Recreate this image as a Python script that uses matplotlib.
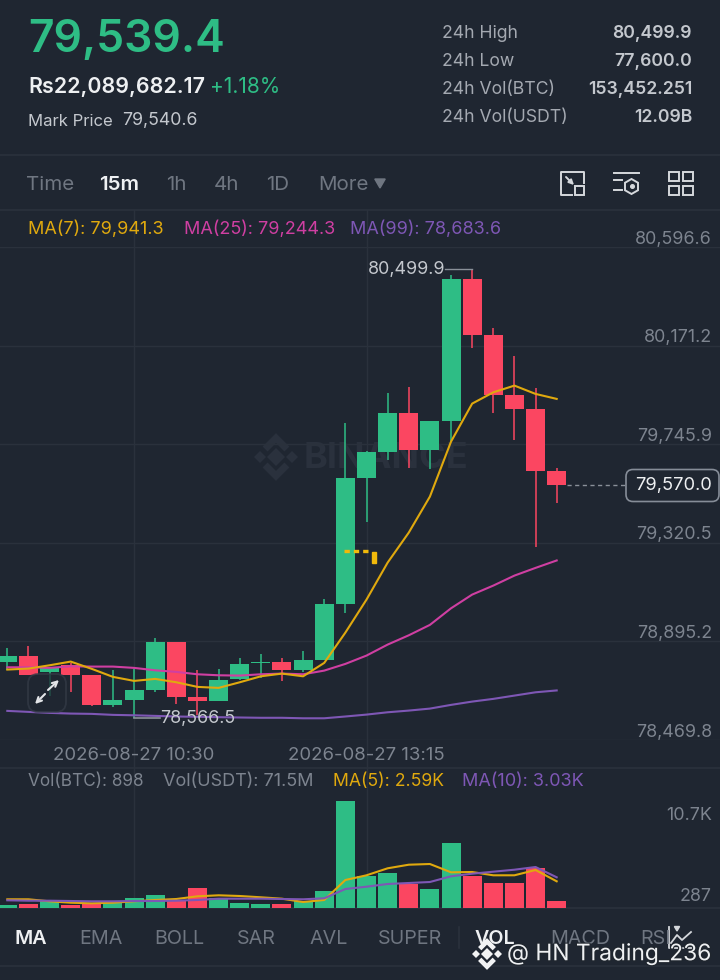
import matplotlib
matplotlib.use("Agg")
import matplotlib.pyplot as plt
import matplotlib.patheffects as pe
from matplotlib.patches import FancyBboxPatch, Rectangle, RegularPolygon

plt.rcParams['font.family'] = ['Inter', 'DejaVu Sans']

# candles
opens = [78806.8, 78830.9, 78763.6, 78792.1, 78749.0, 78621.3, 78642.8, 78687.3, 78891.3, 78657.1,
         78638.5, 78733.4, 78800.7, 78805.0, 78772.3, 78813.7, 79057.0, 79600.5, 79713.9, 79879.2,
         79722.6, 79846.4, 80460.2, 80217.4, 79956.8, 79899.4, 79632.0]
closes = [78830.9, 78749.0, 78780.9, 78752.0, 78621.3, 78641.1, 78684.3, 78891.3, 78657.1, 78638.5,
          78730.4, 78798.1, 78806.8, 78770.5, 78813.7, 79058.3, 79600.5, 79712.7, 79879.2, 79722.6,
          79846.4, 80460.2, 80217.4, 79956.8, 79899.4, 79632.0, 79570.0]
highs = [78868.5, 78877.1, 78780.9, 78803.8, 78749.0, 78773.6, 78777.9, 78908.6, 78891.3, 78773.6,
         78776.6, 78822.3, 78841.3, 78822.3, 78852.5, 79078.5, 79837.7, 79715.2, 79967.2, 79993.0,
         79847.7, 80476.2, 80499.9, 80247.6, 80128.1, 79988.7, 79643.6]
lows = [78770.5, 78749.0, 78658.4, 78677.4, 78615.3, 78610.9, 78566.5, 78678.7, 78626.9, 78579.4,
        78638.5, 78730.4, 78737.8, 78723.1, 78761.9, 78813.7, 79018.2, 79410.7, 79676.4, 79641.9,
        79639.3, 79758.4, 80161.3, 79880.9, 79765.7, 79302.8, 79492.7]

ma7 = [78773.6, 78777.9, 78792.1, 78808.1, 78776.6, 78742.1, 78724.8, 78733.4, 78718.8, 78698.9,
       78694.6, 78718.8, 78744.6, 78756.3, 78744.6, 78802.5, 78933.2, 79075.5, 79235.1, 79364.5,
       79519.8, 79757.1, 79921.0, 79969.7, 79998.7, 79962.8, 79941.3]
ma25 = [78783.5, 78783.5, 78780.9, 78787.8, 78786.5, 78786.5, 78780.9, 78770.5, 78763.6, 78753.3,
        78749.0, 78747.7, 78753.3, 78756.3, 78753.3, 78769.2, 78798.1, 78834.0, 78881.4, 78921.5,
        78966.4, 79038.0, 79097.1, 79135.9, 79179.0, 79212.3, 79244.3]
ma99 = [78595.4, 78591.1, 78586.8, 78583.8, 78582.5, 78578.2, 78576.4, 78573.8, 78571.2, 78569.9,
        78568.2, 78566.9, 78565.6, 78565.6, 78563.5, 78563.5, 78571.2, 78579.4, 78589.4, 78596.7,
        78605.3, 78621.3, 78635.5, 78647.2, 78661.4, 78675.6, 78683.6]

# volume
vol = [360, 412, 797, 360, 540, 797, 1183, 1569, 836, 2469, 1260, 617, 489, 412, 836, 2122, 13734,
       4051, 4437, 3061, 2379, 8256, 4012, 3112, 3189, 5118, 898]
vol_ma5 = [1055, 1055, 797, 617, 540, 617, 797, 965, 1093, 1440, 1569, 1479, 1312, 1132, 707, 965,
           3537, 4141, 5041, 5504, 5594, 4527, 4565, 4141, 4141, 4823, 3369]
vol_ma10 = [926, 874, 874, 836, 797, 797, 836, 836, 874, 965, 1132, 1132, 1132, 1093, 1055, 1183,
            2379, 2675, 3022, 3151, 3279, 4012, 4347, 4604, 4861, 5208, 3884]

price_ticks = [80596.6, 80171.2, 79745.9, 79320.5, 78895.2, 78469.8]
price_labels = ["80,596.6", "80,171.2", "79,745.9", "79,320.5", "78,895.2", "78,469.8"]
date_idx = [6, 17]
date_labels = ["2026-08-27 10:30", "2026-08-27 13:15"]
vol_ticks = [10700, 287]
vol_labels = ["10.7K", "287"]
stat_names = ["24h High", "24h Low", "24h Vol(BTC)", "24h Vol(USDT)"]
stat_values = ["80,499.9", "77,600.0", "153,452.251", "12.09B"]
tab_names = ["Time", "15m", "1h", "4h", "1D", "More"]
indicator_names = ["MA", "EMA", "BOLL", "SAR", "AVL", "SUPER", "VOL", "MACD", "RSI"]
last_price = 79570.0
high_price = 80499.9
low_price = 78566.5

BG = "#1f2631"
GRID = "#2a313c"
GREEN = "#2ebd85"
RED = "#fb4661"
GOLD = "#e0a90e"
PINK = "#cf3fa2"
PURPLE = "#7e57b5"
MUTED = "#7d848f"
SOFT = "#c4c8ce"
WHITE = "#eef0f2"

W, H = 720, 980
fig = plt.figure(figsize=(W / 100, H / 100), dpi=100, facecolor=BG)


def px_axes(x0, y0, x1, y1, z):
    # axes given in picture pixels, y going down
    a = fig.add_axes([x0 / W, 1 - y1 / H, (x1 - x0) / W, (y1 - y0) / H], zorder=z)
    a.patch.set_alpha(0)
    a.axis("off")
    return a


STEP = 21.13
X0 = 7.3
back = px_axes(0, 0, W, H, 0)
back.set_xlim(0, W)
back.set_ylim(H, 0)
over = px_axes(0, 0, W, H, 5)
over.set_xlim(0, W)
over.set_ylim(H, 0)

# price panel, ylim matches the gridlines
ax = px_axes(0, 247, W, 740, 2)
ax.set_xlim(-X0 / STEP, (W - X0) / STEP)
ax.set_ylim(price_ticks[-1], price_ticks[0])
xs = list(range(len(opens)))

# volume panel
vax = px_axes(0, 793, W, 907.5, 2)
vax.set_xlim(-X0 / STEP, (W - X0) / STEP)
vax.set_ylim(0, 114.5 * 128.6)


def logo(a, cx, cy, r, color, z=1):
    a.plot([cx], [cy], marker="D", ms=r * 0.42, color=color, mew=0, zorder=z)
    a.plot([cx - r * 0.78, cx + r * 0.78], [cy, cy], ls="", marker="D", ms=r * 0.3, color=color, mew=0, zorder=z)
    lw = r * 0.24
    a.plot([cx - r * 0.52, cx, cx + r * 0.52], [cy - r * 0.38, cy - r * 0.9, cy - r * 0.38], color=color, lw=lw,
           solid_joinstyle="miter", solid_capstyle="butt", zorder=z)
    a.plot([cx - r * 0.52, cx, cx + r * 0.52], [cy + r * 0.38, cy + r * 0.9, cy + r * 0.38], color=color, lw=lw,
           solid_joinstyle="miter", solid_capstyle="butt", zorder=z)


def arrow(a, start, end, color, style="-|>", scale=8, lw=1.5, z=4):
    a.annotate("", xy=end, xytext=start, zorder=z,
               arrowprops=dict(arrowstyle=style, color=color, lw=lw, mutation_scale=scale, shrinkA=0, shrinkB=0))


# dividers and gridlines
for y in [155, 210, 768, 907.5, 966]:
    back.plot([0, W], [y, y], color=GRID, lw=1.2, zorder=1)
for t in price_ticks:
    ax.axhline(t, color=GRID, lw=1.0, zorder=0)
for i in date_idx:
    px = X0 + STEP * i
    back.plot([px, px], [210, 907.5], color=GRID, lw=1.0, zorder=1)

# faint watermark behind the candles
logo(back, 276, 457, 21, "#2a313d", z=1)
back.text(304, 458, "BINANCE", color="#2a313d", fontsize=26, fontweight="bold", va="center", zorder=1)

# candles
for i in xs:
    c = GREEN if closes[i] >= opens[i] else RED
    ax.plot([i, i], [lows[i], highs[i]], color=c, lw=1.1, solid_capstyle="butt", zorder=2)
    ax.bar(i, abs(closes[i] - opens[i]), bottom=min(opens[i], closes[i]), width=0.9, color=c, zorder=3)

ax.plot(xs, ma99, color=PURPLE, lw=1.5, zorder=4)
ax.plot(xs, ma25, color=PINK, lw=1.5, zorder=4)
ax.plot(xs, ma7, color=GOLD, lw=1.5, zorder=5)

# volume
vcolors = [GREEN if closes[i] >= opens[i] else RED for i in xs]
vax.bar(xs, vol, width=0.9, color=vcolors, zorder=2)
vax.plot(xs, vol_ma5, color=GOLD, lw=1.5, zorder=3)
vax.plot(xs, vol_ma10, color=PURPLE, lw=1.5, zorder=4)

# price scale labels, sitting just above their gridline
for t, s in zip(price_ticks, price_labels):
    ax.annotate(s, (1, t), xycoords=("axes fraction", "data"), xytext=(-8, 8), textcoords="offset pixels",
                color=MUTED, fontsize=12.9, ha="right", va="center", annotation_clip=False)
for t, s in zip(vol_ticks, vol_labels):
    vax.annotate(s, (1, t), xycoords=("axes fraction", "data"), xytext=(-8, 9), textcoords="offset pixels",
                 color=MUTED, fontsize=12.9, ha="right", va="center", annotation_clip=False)
for i, s in zip(date_idx, date_labels):
    over.text(X0 + STEP * i, 755, s, color=MUTED, fontsize=13.4, ha="center", va="center")

# high / low tags
ax.plot([20.71, 22], [high_price, high_price], color="#8a9099", lw=1, zorder=2)
ax.annotate("80,499.9", (20.71, high_price), xytext=(0, 0), textcoords="offset pixels", color=SOFT, fontsize=12.9,
            ha="right", va="center", zorder=6)
ax.plot([6, 7.25], [low_price, low_price], color="#8a9099", lw=1.2, zorder=2)
ax.annotate("78,566.5", (7.25, low_price), xytext=(0, -1), textcoords="offset pixels", color=SOFT, fontsize=12.9,
            ha="left", va="center", zorder=6)

# last price tag
ax.plot([26.5, 29.3], [last_price, last_price], color="#8a9099", lw=1, ls=(0, (3, 2.5)), zorder=2)
over.add_patch(FancyBboxPatch((626, 469.5), 93, 32, boxstyle="round,pad=0,rounding_size=7", fc=BG, ec="#868d98", lw=1.2,
                              zorder=6, clip_on=False))
over.text(673.5, 485.5, "79,570.0", color=WHITE, fontsize=13.2, ha="center", va="center", zorder=7)

# the little position marker on the chart
over.plot([343.7, 367.5], [551, 551], color="#f0b90b", lw=2.4, ls=(0, (1.6, 1.2)), zorder=3)
over.add_patch(Rectangle((371.5, 551.5), 4.5, 11.5, color="#f0b90b", zorder=3))

# header
over.text(28, 40, "79,539.4", color=GREEN, fontsize=32, fontweight="semibold", va="center")
over.text(28, 87, "Rs22,089,682.17", color=WHITE, fontsize=15.4, fontweight="semibold", va="center")
over.text(210, 87, "+1.18%", color=GREEN, fontsize=15, va="center")
over.text(28, 121, "Mark Price", color=SOFT, fontsize=12, va="center")
over.text(122, 121, "79,540.6", color=SOFT, fontsize=12.8, va="center")
for i in range(4):
    y = 33 + 28 * i
    over.text(442, y, stat_names[i], color="#a4a9b1", fontsize=12.7, va="center")
    over.text(692, y, stat_values[i], color=SOFT, fontsize=12.7, fontweight="semibold", ha="right", va="center")

# interval tabs
tab_x = [26, 99, 166, 214, 266, 318]
for i, s in enumerate(tab_names):
    active = s == "15m"
    over.text(tab_x[i], 185, s, color=WHITE if active else "#6f7681", fontsize=14.8,
              fontweight="semibold" if active else "normal", va="center")
over.add_patch(RegularPolygon((380, 182), 3, radius=6, orientation=0, color="#6f7681"))

# toolbar icons
ICON = "#d5d8dc"
over.plot([572, 561, 561, 584, 584], [195, 195, 172, 172, 183], color=ICON, lw=1.4)
over.add_patch(Rectangle((575, 186), 9, 9, fill=False, ec=ICON, lw=1.4))
arrow(over, (566, 177), (574, 185), ICON, scale=7, lw=1.4)
over.plot([614, 639], [173, 173], color=ICON, lw=1.4)
over.plot([614, 622], [180, 180], color=ICON, lw=1.4)
over.plot([614, 622], [190, 190], color=ICON, lw=1.4)
over.add_patch(RegularPolygon((631.5, 186.5), 6, radius=7.5, fill=False, ec=ICON, lw=1.4))
over.plot([631.5], [186.5], marker="o", ms=2.6, color=ICON)
for gx in [669, 683]:
    for gy in [172, 186]:
        over.add_patch(Rectangle((gx, gy), 9.5, 9.5, fill=False, ec=ICON, lw=1.4))

# MA legend rows
over.text(28, 229, "MA(7): 79,941.3", color=GOLD, fontsize=13, va="center")
over.text(184, 229, "MA(25): 79,244.3", color=PINK, fontsize=13, va="center")
over.text(350, 229, "MA(99): 78,683.6", color=PURPLE, fontsize=13, va="center")
over.text(28, 781, "Vol(BTC): 898", color=MUTED, fontsize=12.4, va="center")
over.text(163, 781, "Vol(USDT): 71.5M", color=MUTED, fontsize=13, va="center")
over.text(333, 781, "MA(5): 2.59K", color=GOLD, fontsize=12.7, va="center")
over.text(462, 781, "MA(10): 3.03K", color=PURPLE, fontsize=13, va="center")

# expand button
over.add_patch(FancyBboxPatch((28, 674), 38, 38, boxstyle="round,pad=0,rounding_size=10", fc=BG, ec="#343b47", lw=1.3,
                              alpha=0.75, zorder=3))
arrow(over, (48, 690), (59, 680), "#e3e5e8", style="->", scale=9)
arrow(over, (45, 694), (35, 704), "#e3e5e8", style="->", scale=9)

# indicator tabs
ind_x = [15, 79, 154, 237, 309, 378, 475, 550, 640]
for i, s in enumerate(indicator_names):
    active = s in ("MA", "VOL")
    over.text(ind_x[i], 939, s, color=WHITE if active else "#6f7681", fontsize=14.2,
              fontweight="semibold" if active else "normal", va="center")
over.plot([458.5, 458.5], [927, 948], color=GRID, lw=1.2)
over.plot([669, 669, 692], [927, 948, 948], color=ICON, lw=1.3)
over.plot([671, 677, 682, 691], [943, 935, 940, 932], color=ICON, lw=1.3)
over.add_patch(RegularPolygon((677, 928), 3, radius=3, orientation=0, color=ICON))

# share watermark over everything
shadow = [pe.withStroke(linewidth=1.6, foreground="#20262e")]
logo(over, 487, 954, 14, "#f2f3f4", z=8)
over.text(507, 954, "@ HN Trading_236", color="#eef0f2", fontsize=16.4, va="center", zorder=8, path_effects=shadow)

fig.savefig("out.png", dpi=100, facecolor=BG)
